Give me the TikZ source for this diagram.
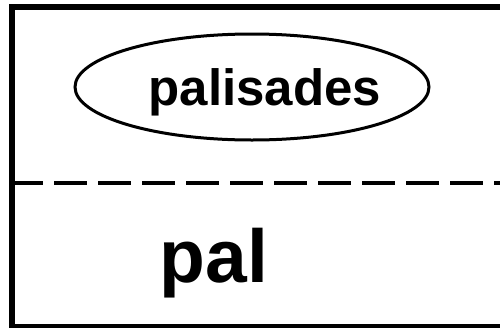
\documentclass[tikz,border=0pt]{standalone}
\usepackage{fontspec}
\setmainfont{Liberation Sans}
\usetikzlibrary{shapes.geometric}
\begin{document}
\begin{tikzpicture}[x=1pt,y=-1pt,
  frame/.style={draw=black,line width=6pt},
  sep/.style={draw=black,line width=4pt,dash pattern=on 33pt off 11pt},
  oval/.style={ellipse,draw=black,line width=3pt,inner sep=0pt,minimum width=354pt,minimum height=106pt},
  lbl/.style={inner sep=0pt,anchor=base,font=\bfseries\fontsize{51}{51}\selectfont},
  big/.style={inner sep=0pt,anchor=base,font=\bfseries\fontsize{75}{75}\selectfont}]
\useasboundingbox (0,0) rectangle (500,327);
\clip (0,0) rectangle (500,327);
\fill[white] (0,0) rectangle (500,327);
\draw[frame] (12,7) rectangle (506,327);
\coordinate (dl) at (10,183);
\coordinate (dr) at (506,183);
\draw[sep] (dl) -- (dr);
\node[oval] (e) at (252,87) {};
\node[lbl] (t) at (265,105) {palisades};
\node[big] (p) at (214,282) {pal};
\end{tikzpicture}
\end{document}
